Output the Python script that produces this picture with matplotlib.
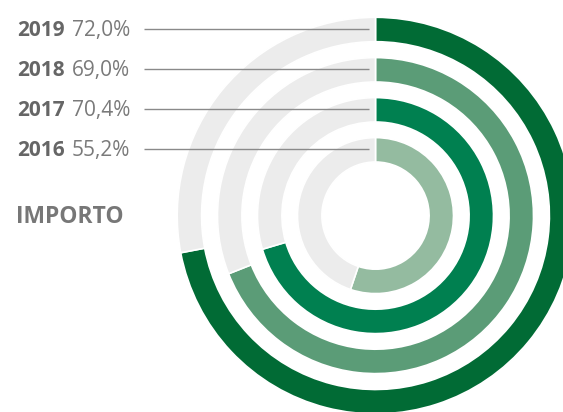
import matplotlib
matplotlib.use("Agg")
import matplotlib.pyplot as plt
from matplotlib.patches import Wedge

years = ["2016", "2017", "2018", "2019"]
values = [55.2, 70.4, 69.0, 72.0]
value_labels = ["55,2%", "70,4%", "69,0%", "72,0%"]
colors = ["#94BBA0", "#008050", "#5B9C77", "#016B35"]
title = "IMPORTO"

W, H = 563, 412
fig = plt.figure(figsize=(W / 100, H / 100), dpi=100)
ax = fig.add_axes([0, 0, 1, 1])
ax.set_xlim(0, W)
ax.set_ylim(H, 0)
ax.axis("off")

cx, cy = 375.5, 215.6
outer_radii = [78, 118, 158, 198.3]
width = 24.4
gray = "#ECECEC"

for i, (v, c) in enumerate(zip(values, colors)):
    r = outer_radii[i]
    start = -90
    end = -90 + v * 3.6
    ax.add_patch(Wedge((cx, cy), r, start, end, width=width, facecolor=c,
                       edgecolor="white", linewidth=1.2))
    ax.add_patch(Wedge((cx, cy), r, end, start + 360, width=width, facecolor=gray,
                       edgecolor="white", linewidth=1.2))

line_y = [149.3, 109.3, 69.3, 29.3]
for i, y in enumerate(line_y):
    ax.plot([144, 369], [y, y], color="#8A8A8A", linewidth=1.0, solid_capstyle="butt")
    ax.text(17, y + 1, years[i], fontsize=15, fontweight="bold", color="#666666",
            family="Open Sans", ha="left", va="center")
    ax.text(72, y + 1, value_labels[i], fontsize=15, fontweight="normal", color="#7A7A7A",
            family="Open Sans", ha="left", va="center")

ax.text(16, 217, title, fontsize=16.5, fontweight="bold", color="#777777",
        family="Open Sans", ha="left", va="center")

fig.savefig("out.png", dpi=100)
